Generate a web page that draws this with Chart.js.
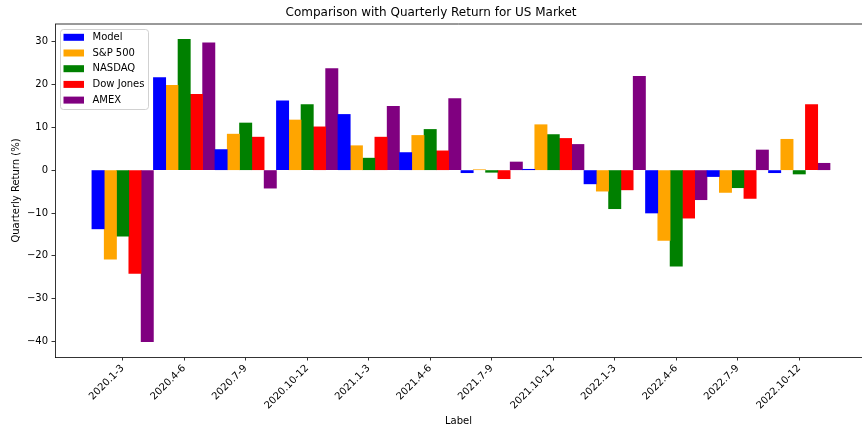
<!DOCTYPE html>
<html>
<head>
<meta charset="utf-8">
<script src="https://cdn.jsdelivr.net/npm/chart.js@4/dist/chart.umd.min.js"></script>
<style>
  html, body { margin: 0; padding: 0; background: #fff; overflow: hidden; }
  canvas { display: block; }
</style>
</head>
<body>
<canvas id="myChart" width="862" height="432"></canvas>
<script>
// quarters on the x axis
const labels = ['2020.1-3', '2020.4-6', '2020.7-9', '2020.10-12', '2021.1-3', '2021.4-6',
                '2021.7-9', '2021.10-12', '2022.1-3', '2022.4-6', '2022.7-9', '2022.10-12'];

// quarterly return (%)
const model  = [-13.7, 21.6, 4.8, 16.2, 13.0, 4.1, -0.6, 0.2, -3.2, -10.0, -1.5, -0.6];
const sp500  = [-20.8, 19.8, 8.4, 11.7, 5.7, 8.1, 0.1, 10.6, -4.9, -16.4, -5.2, 7.2];
const nasdaq = [-15.4, 30.5, 11.0, 15.3, 2.8, 9.5, -0.5, 8.3, -9.0, -22.4, -4.1, -0.9];
const dow    = [-24.1, 17.7, 7.7, 10.1, 7.7, 4.5, -2.0, 7.4, -4.6, -11.2, -6.6, 15.3];
const amex   = [-40.0, 29.7, -4.2, 23.7, 14.9, 16.7, 1.9, 6.0, 21.9, -6.9, 4.7, 1.6];

const yTicks = [-40, -30, -20, -10, 0, 10, 20, 30];

const seriesNames = ['Model', 'S&P 500', 'NASDAQ', 'Dow Jones', 'AMEX'];
const seriesData = [model, sp500, nasdaq, dow, amex];
const seriesColors = ['#0000ff', '#ffa500', '#008000', '#ff0000', '#800080'];

Chart.defaults.font.family = 'DejaVu Sans';
Chart.defaults.font.size = 10;
Chart.defaults.color = '#000';

// legend inside the plot (upper left) + top spine
const innerLegend = {
  id: 'innerLegend',
  afterDraw(chart) {
    const { ctx, chartArea } = chart;
    ctx.save();
    ctx.strokeStyle = '#000';
    ctx.lineWidth = 0.8;
    ctx.beginPath();
    ctx.moveTo(chartArea.left, chartArea.top);
    ctx.lineTo(chartArea.right, chartArea.top);
    ctx.stroke();

    const bx = chartArea.left + 5, by = chartArea.top + 5, bw = 88, bh = 80;
    ctx.beginPath();
    ctx.roundRect(bx + 0.5, by + 0.5, bw, bh, 3);
    ctx.fillStyle = 'rgba(255,255,255,0.8)';
    ctx.fill();
    ctx.strokeStyle = 'rgba(204,204,204,0.9)';
    ctx.lineWidth = 1;
    ctx.stroke();

    ctx.font = '10px "DejaVu Sans"';
    ctx.textBaseline = 'middle';
    chart.data.datasets.forEach((ds, i) => {
      const cy = by + 8.3 + i * 15.7;
      ctx.fillStyle = ds.backgroundColor;
      ctx.fillRect(bx + 3.5, cy - 3.5, 20.5, 7);
      ctx.fillStyle = '#000';
      ctx.fillText(ds.label, bx + 32.5, cy);
    });
    ctx.restore();
  }
};

const myChart = new Chart(document.getElementById('myChart').getContext('2d'), {
  type: 'bar',
  data: {
    datasets: seriesNames.map((name, i) => ({
      label: name,
      data: seriesData[i].map((v, j) => ({ x: j, y: v })),
      backgroundColor: seriesColors[i],
      borderWidth: 0,
      categoryPercentage: 1.0,
      barPercentage: 1.0
    }))
  },
  options: {
    responsive: false,
    animation: false,
    devicePixelRatio: 1,
    layout: { padding: 0 },
    plugins: {
      legend: { display: false },
      tooltip: { enabled: false },
      title: {
        display: true,
        text: 'Comparison with Quarterly Return for US Market',
        font: { size: 12, weight: 'normal' },
        color: '#000',
        padding: { top: 6, bottom: 3.6 }
      }
    },
    scales: {
      x: {
        type: 'linear',
        min: -1.1,
        max: 12.02,
        offset: false,
        afterBuildTicks: s => { s.ticks = labels.map((_, i) => ({ value: i })); },
        afterFit: s => { s.height = 75; },
        ticks: {
          autoSkip: false,
          minRotation: 45,
          maxRotation: 45,
          padding: 2,
          callback: v => labels[v]
        },
        grid: { offset: false, drawOnChartArea: false, drawTicks: true, tickLength: 3.5, color: '#000', lineWidth: 0.8 },
        border: { display: true, color: '#000', width: 0.8 },
        title: { display: true, text: 'Label', padding: { top: 0, bottom: 5 } }
      },
      y: {
        min: -43.6,
        max: 34.1,
        afterBuildTicks: s => { s.ticks = yTicks.map(v => ({ value: v })); },
        afterFit: s => { s.width = 55; },
        ticks: {
          padding: 3.5,
          callback: v => String(v).replace('-', '\u2212')
        },
        grid: { drawOnChartArea: false, drawTicks: true, tickLength: 3.5, color: '#000', lineWidth: 0.8 },
        border: { display: true, color: '#000', width: 0.8 },
        title: { display: true, text: 'Quarterly Return (%)', padding: { top: 10, bottom: 0 } }
      }
    }
  },
  plugins: [innerLegend]
});
</script>
</body>
</html>
